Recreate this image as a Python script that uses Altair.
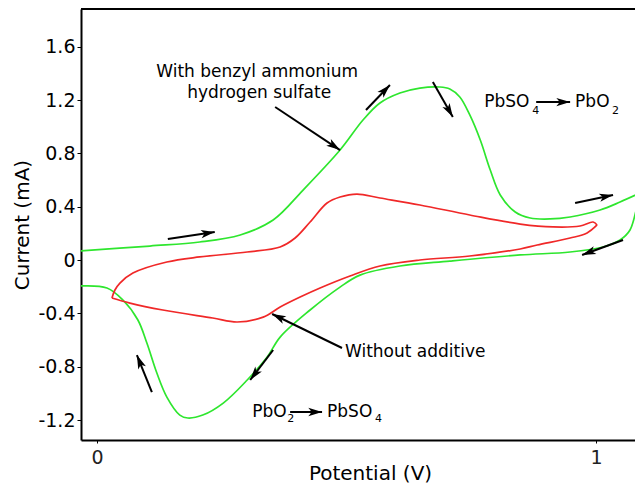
import math
import altair as alt
import pandas as pd

# ---------------- data ----------------
# With benzyl ammonium hydrogen sulfate (green) - anodic sweep
G_AN_V = [-0.035, 0.106, 0.206, 0.287, 0.353, 0.413, 0.487, 0.533, 0.567, 0.607, 0.647, 0.687,
          0.707, 0.727, 0.747, 0.768, 0.788, 0.808, 0.838, 0.868, 0.908, 0.948, 1.008, 1.048, 1.092]
G_AN_I = [0.068, 0.105, 0.135, 0.188, 0.300, 0.525, 0.825, 1.050, 1.178, 1.253, 1.290, 1.298,
          1.283, 1.223, 1.088, 0.900, 0.675, 0.488, 0.360, 0.315, 0.308, 0.323, 0.375, 0.435, 0.510]
# green - cathodic sweep
G_CA_V = [1.092, 1.084, 1.068, 1.048, 1.014, 0.948, 0.848, 0.707, 0.607, 0.527, 0.487, 0.427,
          0.367, 0.341, 0.301, 0.253, 0.212, 0.182, 0.166, 0.140, 0.120, 0.100, 0.082, 0.052,
          0.020, -0.035]
G_CA_I = [0.510, 0.428, 0.225, 0.150, 0.098, 0.060, 0.038, -0.008, -0.045, -0.113, -0.203, -0.375,
          -0.578, -0.728, -0.900, -1.073, -1.163, -1.185, -1.163, -1.028, -0.848, -0.623, -0.450,
          -0.300, -0.210, -0.195]
# Without additive (red) - anodic sweep
R_AN_V = [0.030, 0.036, 0.046, 0.072, 0.140, 0.206, 0.301, 0.367, 0.397, 0.427, 0.461, 0.487,
          0.521, 0.567, 0.647, 0.747, 0.848, 0.914, 0.968, 0.994, 1.002]
R_AN_I = [-0.285, -0.225, -0.173, -0.098, -0.015, 0.023, 0.060, 0.098, 0.165, 0.285, 0.428, 0.473,
          0.495, 0.465, 0.413, 0.338, 0.270, 0.248, 0.255, 0.285, 0.263]
# red - cathodic sweep
R_CA_V = [1.002, 0.982, 0.948, 0.882, 0.848, 0.747, 0.647, 0.567, 0.507, 0.447, 0.407, 0.367,
          0.333, 0.281, 0.232, 0.132, 0.066, 0.030]
R_CA_I = [0.263, 0.203, 0.165, 0.113, 0.083, 0.030, 0.000, -0.045, -0.120, -0.210, -0.278, -0.353,
          -0.428, -0.465, -0.435, -0.375, -0.323, -0.285]

# annotation arrows: tail (V, I) -> head (V, I)
ARROW_X1 = [0.357, 0.539, 0.673, 0.142, 0.958, 1.054, 0.491, 0.110, 0.353, 0.880, 0.387]
ARROW_Y1 = [1.148, 1.125, 1.335, 0.158, 0.428, 0.150, -0.660, -0.990, -0.675, 1.185, -1.140]
ARROW_X2 = [0.487, 0.587, 0.713, 0.236, 1.034, 0.972, 0.351, 0.080, 0.307, 0.948, 0.451]
ARROW_Y2 = [0.825, 1.313, 1.073, 0.210, 0.488, 0.038, -0.405, -0.713, -0.900, 1.185, -1.140]

# centred labels
C_TEXT = ["With benzyl ammonium", "hydrogen sulfate"]
C_X = [0.321, 0.325]
C_Y = [1.410, 1.253]
# left-aligned labels
L_TEXT = ["Without additive", "PbSO", "PbO", "PbO", "PbSO"]
L_X = [0.497, 0.776, 0.958, 0.311, 0.461]
L_Y = [-0.690, 1.185, 1.185, -1.140, -1.140]
# subscripts
S_TEXT = ["4", "2", "2", "4"]
S_X = [0.872, 1.032, 0.381, 0.557]
S_Y = [1.120, 1.120, -1.195, -1.195]

Y_TICKS = [round(-1.2 + 0.2 * k, 1) for k in range(16)]
X_TICKS = [0, 1]

# ---------------- layout ----------------
W, H = 554, 431
XDOM = [-0.032, 1.078]
YDOM = [-1.35, 1.883]
FONT = "DejaVu Sans"
GREEN = "#2ee62e"
RED = "#f02828"
INK = "#000000"

rows = []
for name, br, vs, cs in [("with", "g1", G_AN_V, G_AN_I), ("with", "g2", G_CA_V, G_CA_I),
                         ("without", "r1", R_AN_V, R_AN_I), ("without", "r2", R_CA_V, R_CA_I)]:
    for k, (v, c) in enumerate(zip(vs, cs)):
        rows.append({"series": name, "branch": br, "k": k, "V": v, "I": c})
curves = pd.DataFrame(rows)

px_x = W / (XDOM[1] - XDOM[0])
px_y = H / (YDOM[1] - YDOM[0])
arrows = pd.DataFrame({"x1": ARROW_X1, "y1": ARROW_Y1, "x2": ARROW_X2, "y2": ARROW_Y2})
arrows["ang"] = [
    math.degrees(math.atan2((x2 - x1) * px_x, (y2 - y1) * px_y)) % 360
    for x1, y1, x2, y2 in zip(ARROW_X1, ARROW_Y1, ARROW_X2, ARROW_Y2)
]

xs = alt.Scale(domain=XDOM, nice=False, zero=False)
ys = alt.Scale(domain=YDOM, nice=False, zero=False)

label_expr = ("abs(round(datum.value*10)) % 4 == 0 ? (datum.value == 0 ? '0' : "
              "(datum.value < 0 ? '-' : '') + format(abs(datum.value), '.1f')) : ''")

x_axis = alt.Axis(values=X_TICKS, format="d", title="Potential (V)", grid=False,
                  labelFontSize=19, labelColor="#222", labelPadding=5, tickSize=3,
                  domainColor=INK, domainWidth=2, tickColor=INK,
                  titleFontSize=20, titleFontWeight="normal", titleColor=INK,
                  titleY=33, titleBaseline="middle", titleX=289)
y_axis = alt.Axis(values=Y_TICKS, labelExpr=label_expr, title="Current (mA)", grid=False,
                  labelFontSize=19, labelColor=INK, labelPadding=2, tickSize=4,
                  labelOverlap=False, domainColor=INK, domainWidth=2, tickColor=INK,
                  titleFontSize=20, titleFontWeight="normal", titleColor=INK,
                  titleAngle=270, titleX=-59, titleY=H / 2, titleAlign="center",
                  titleBaseline="middle")

lines = alt.Chart(curves).mark_line(interpolate="catmull-rom", clip=True, strokeWidth=1.7).encode(
    x=alt.X("V:Q", scale=xs, axis=x_axis),
    y=alt.Y("I:Q", scale=ys, axis=y_axis),
    color=alt.Color("series:N", scale=alt.Scale(domain=["with", "without"], range=[GREEN, RED]),
                    legend=None),
    detail="branch:N",
    order="k:Q",
)

top_border = alt.Chart(pd.DataFrame({"a": [0]})).mark_rule(color=INK, strokeWidth=2).encode(
    x=alt.value(0), x2=alt.value(W), y=alt.value(0)
)

shafts = alt.Chart(arrows).mark_rule(color=INK, strokeWidth=2).encode(
    x="x1:Q", y="y1:Q", x2="x2:Q", y2="y2:Q"
)
heads = alt.Chart(arrows).mark_point(
    shape="M0,0 L0.6,2 L0,1.5 L-0.6,2 Z", filled=True, color=INK, opacity=1, size=190
).encode(x="x2:Q", y="y2:Q", angle=alt.Angle("ang:Q", scale=None))

ctext = alt.Chart(pd.DataFrame({"t": C_TEXT, "x": C_X, "y": C_Y})).mark_text(
    font=FONT, fontSize=17, color=INK, align="center", baseline="middle"
).encode(x="x:Q", y="y:Q", text="t:N")
ltext = alt.Chart(pd.DataFrame({"t": L_TEXT, "x": L_X, "y": L_Y})).mark_text(
    font=FONT, fontSize=17, color=INK, align="left", baseline="middle"
).encode(x="x:Q", y="y:Q", text="t:N")
stext = alt.Chart(pd.DataFrame({"t": S_TEXT, "x": S_X, "y": S_Y})).mark_text(
    font=FONT, fontSize=11, color=INK, align="left", baseline="middle"
).encode(x="x:Q", y="y:Q", text="t:N")

chart = (
    alt.layer(lines, top_border, shafts, heads, ctext, ltext, stext)
    .properties(width=W, height=H, autosize=alt.AutoSizeParams(type="none"),
                padding={"left": 73, "top": 1, "right": 0, "bottom": 44})
    .configure(font=FONT)
    .configure_view(stroke=None, strokeWidth=0)
    .configure_axis(labelFont=FONT, titleFont=FONT)
)

chart.save("out.html", embed_options={"renderer": "svg", "actions": False})
